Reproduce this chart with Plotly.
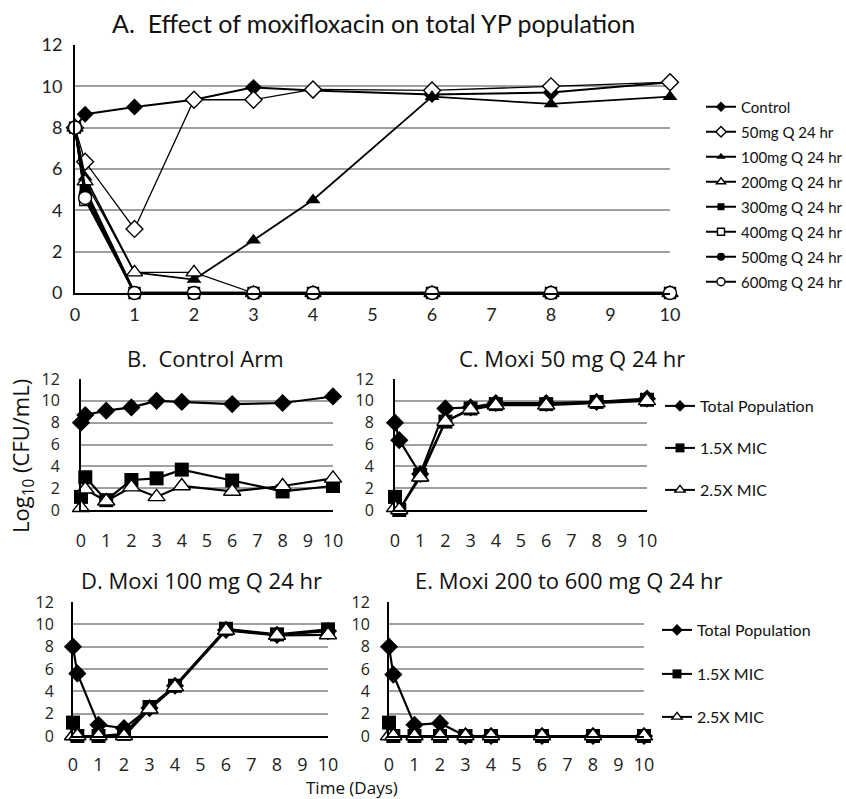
import plotly.graph_objects as go

W, H = 846, 799

# ---------------- data ----------------
days = [0, 0.17, 1, 2, 3, 4, 6, 8, 10]

# Panel A: total YP population by regimen
a_names = ["Control", "50mg Q 24 hr", "100mg Q 24 hr", "200mg Q 24 hr",
           "300mg Q 24 hr", "400mg Q 24 hr", "500mg Q 24 hr", "600mg Q 24 hr"]
a_control = [8.0, 8.65, 9.0, 9.35, 9.95, 9.8, 9.6, 9.7, 10.2]
a_50 = [8.0, 6.35, 3.1, 9.35, 9.35, 9.85, 9.8, 10.0, 10.2]
a_100 = [8.0, 5.6, 1.0, 0.65, 2.55, 4.5, 9.5, 9.15, 9.5]
a_200 = [8.0, 5.4, 1.0, 1.0, 0, 0, 0, 0, 0]
a_300 = [8.0, 5.0, 0, 0, 0, 0, 0, 0, 0]
a_400 = [8.0, 4.5, 0, 0, 0, 0, 0, 0, 0]
a_500 = [8.0, 4.8, 0, 0, 0, 0, 0, 0, 0]
a_600 = [8.0, 4.6, 0, 0, 0, 0, 0, 0, 0]

sub_names = ["Total Population", "1.5X MIC", "2.5X MIC"]
# Panel B: control arm
b_total = [8.0, 8.7, 9.1, 9.4, 10.0, 9.9, 9.7, 9.8, 10.4]
b_15 = [1.2, 3.0, 0.9, 2.75, 2.9, 3.7, 2.7, 1.7, 2.2]
b_25 = [0.2, 1.9, 0.8, 2.1, 1.2, 2.2, 1.7, 2.2, 2.9]
# Panel C: 50 mg
c_total = [8.0, 6.4, 3.3, 9.3, 9.4, 9.8, 9.8, 9.9, 10.2]
c_15 = [1.2, 0.0, 3.2, 8.1, 9.3, 9.7, 9.7, 9.9, 10.1]
c_25 = [0.2, 0.0, 3.0, 8.1, 9.2, 9.6, 9.6, 9.8, 10.0]
# Panel D: 100 mg
d_total = [8.0, 5.6, 1.0, 0.7, 2.5, 4.5, 9.5, 9.05, 9.4]
d_15 = [1.2, 0.0, 0.0, 0.2, 2.6, 4.5, 9.6, 9.1, 9.55]
d_25 = [0.0, 0.0, 0.0, 0.0, 2.4, 4.4, 9.45, 9.0, 9.05]
# Panel E: 200-600 mg
e_total = [8.0, 5.5, 1.0, 1.15, 0, 0, 0, 0, 0]
e_15 = [1.2, 0, 0, 0, 0, 0, 0, 0, 0]
e_25 = [0, 0, 0, 0, 0, 0, 0, 0, 0]

x_ticks = list(range(0, 11))
y_ticks = list(range(0, 13, 2))

# ---------------- helpers ----------------
def fx(px):
    return px / W

def fy(py):
    return 1 - py / H

FONT_A = "Lato"
FONT_B = "Open Sans"

fig = go.Figure()

def mk(symbol, filled, size):
    if filled:
        return dict(symbol=symbol, size=size, color="black", line=dict(width=0))
    return dict(symbol=symbol, size=size, color="white", line=dict(color="black", width=1.4))

# Panel A traces
a_series = [a_control, a_50, a_100, a_200, a_300, a_400, a_500, a_600]
a_styles = [("diamond", True, 13, 2.0), ("diamond", False, 13, 1.3),
            ("triangle-up", True, 13, 1.8), ("triangle-up", False, 14, 1.3),
            ("square", True, 11, 2.6), ("square", False, 11, 1.6),
            ("circle", True, 13, 2.6), ("circle", False, 13, 1.6)]
for i, (name, ys, st) in enumerate(zip(a_names, a_series, a_styles)):
    fig.add_trace(go.Scatter(x=days, y=ys, name=name, mode="lines+markers",
                             line=dict(color="black", width=st[3]),
                             marker=mk(st[0], st[1], st[2]),
                             xaxis="x", yaxis="y", cliponaxis=False,
                             showlegend=False))
# legend entries (small legend symbols, like the original)
for i, (name, st) in enumerate(zip(a_names, a_styles)):
    lg = "legend" if i == 0 else f"legend{i+1}"
    fig.add_trace(go.Scatter(x=[None], y=[None], name=name, mode="lines+markers",
                             line=dict(color="black", width=2),
                             marker=mk(st[0], st[1], 8 if st[0] != "square" else 7),
                             xaxis="x", yaxis="y", legend=lg, showlegend=True))

sub_styles = [("diamond", True, 14), ("square", True, 14), ("triangle-up", False, 15)]
panels = [
    ("x2", "y2", [b_total, b_15, b_25], None),
    ("x3", "y3", [c_total, c_15, c_25], [9, 10, 11]),
    ("x4", "y4", [d_total, d_15, d_25], None),
    ("x5", "y5", [e_total, e_15, e_25], [12, 13, 14]),
]
for xa, ya, series, legs in panels:
    for j, (name, ys, st) in enumerate(zip(sub_names, series, sub_styles)):
        fig.add_trace(go.Scatter(x=days, y=ys, name=name, mode="lines+markers",
                                 line=dict(color="black", width=2.2),
                                 marker=mk(st[0], st[1], st[2]),
                                 xaxis=xa, yaxis=ya, cliponaxis=False,
                                 showlegend=False))
        if legs:
            fig.add_trace(go.Scatter(x=[None], y=[None], name=name, mode="lines+markers",
                                     line=dict(color="black", width=2),
                                     marker=mk(st[0], st[1], 9),
                                     xaxis=xa, yaxis=ya, legend=f"legend{legs[j]}",
                                     showlegend=True))

# ---------------- axes ----------------
def xax(dom, anchor, fontfam, size, standoff):
    return dict(domain=[fx(dom[0]), fx(dom[1])], range=[0, 10], anchor=anchor,
                tickmode="array", tickvals=x_ticks, ticks="", showgrid=False,
                zeroline=False, showline=True, linecolor="black", linewidth=2,
                ticklabelstandoff=standoff, automargin=False,
                tickfont=dict(family=fontfam, size=size, color="#222"), fixedrange=True)

def yax(dom, anchor, fontfam, size, standoff):
    return dict(domain=[fy(dom[1]), fy(dom[0])], range=[0, 12], anchor=anchor,
                tickmode="array", tickvals=y_ticks, ticks="", showgrid=True,
                gridcolor="#a0a0a0", gridwidth=1.5, zeroline=False,
                showline=True, linecolor="black", linewidth=2,
                ticklabelstandoff=standoff, automargin=False,
                tickfont=dict(family=fontfam, size=size, color="#222"), fixedrange=True)

TX = 18
TY = 16
layout = dict(
    width=W, height=H, margin=dict(l=0, r=0, t=0, b=0, autoexpand=False),
    paper_bgcolor="white", plot_bgcolor="white",
    xaxis=xax((75, 670), "y", FONT_A, 18, 4), yaxis=yax((45, 293), "x", FONT_A, 18, 7),
    xaxis2=xax((81, 333), "y2", FONT_B, TX, 13), yaxis2=yax((379, 510), "x2", FONT_B, TY, 16),
    xaxis3=xax((395, 647), "y3", FONT_B, TX, 13), yaxis3=yax((379, 510), "x3", FONT_B, TY, 16),
    xaxis4=xax((73, 328), "y4", FONT_B, TX, 11), yaxis4=yax((602, 736), "x4", FONT_B, TY, 14),
    xaxis5=xax((389, 644), "y5", FONT_B, TX, 11), yaxis5=yax((602, 736), "x5", FONT_B, TY, 14),
)

# legends
def legend_at(xpx, ypx, size):
    return dict(x=fx(xpx), y=fy(ypx), xanchor="left", yanchor="middle",
                xref="paper", yref="paper", bgcolor="rgba(0,0,0,0)",
                font=dict(family=FONT_A, size=size, color="#111"),
                itemwidth=30, borderwidth=0, itemclick=False, itemdoubleclick=False)

a_leg_y = [107, 132, 157, 182, 207, 232, 257, 282]
for i, yy in enumerate(a_leg_y):
    key = "legend" if i == 0 else f"legend{i+1}"
    layout[key] = legend_at(701, yy, 15)
for k, yy in zip([9, 10, 11], [406, 448, 490]):
    layout[f"legend{k}"] = legend_at(660, yy, 16)
for k, yy in zip([12, 13, 14], [630, 674, 717]):
    layout[f"legend{k}"] = legend_at(657, yy, 16)

fig.update_layout(**layout)

# titles and axis labels
def ann(text, xpx, ypx, size, fam, angle=0, yanchor="middle"):
    fig.add_annotation(text=text, x=fx(xpx), y=fy(ypx), xref="paper", yref="paper",
                       xanchor="center", yanchor=yanchor, showarrow=False,
                       textangle=angle, font=dict(family=fam, size=size, color="#111"))

ann("A.  Effect of moxifloxacin on total YP population", 373, 23, 25, FONT_A)
ann("B.  Control Arm", 205, 358, 22, FONT_B)
ann("C. Moxi 50 mg Q 24 hr", 572, 358, 22, FONT_B)
ann("D. Moxi 100 mg Q 24 hr", 201, 580, 22, FONT_B)
ann("E. Moxi 200 to 600 mg Q 24 hr", 568, 580, 22, FONT_B)
ann("Log<sub>10</sub> (CFU/mL)", 22, 456, 22, FONT_B, angle=-90)
ann("Time (Days)", 352, 787, 17, FONT_B)

fig.write_html("out.html")
